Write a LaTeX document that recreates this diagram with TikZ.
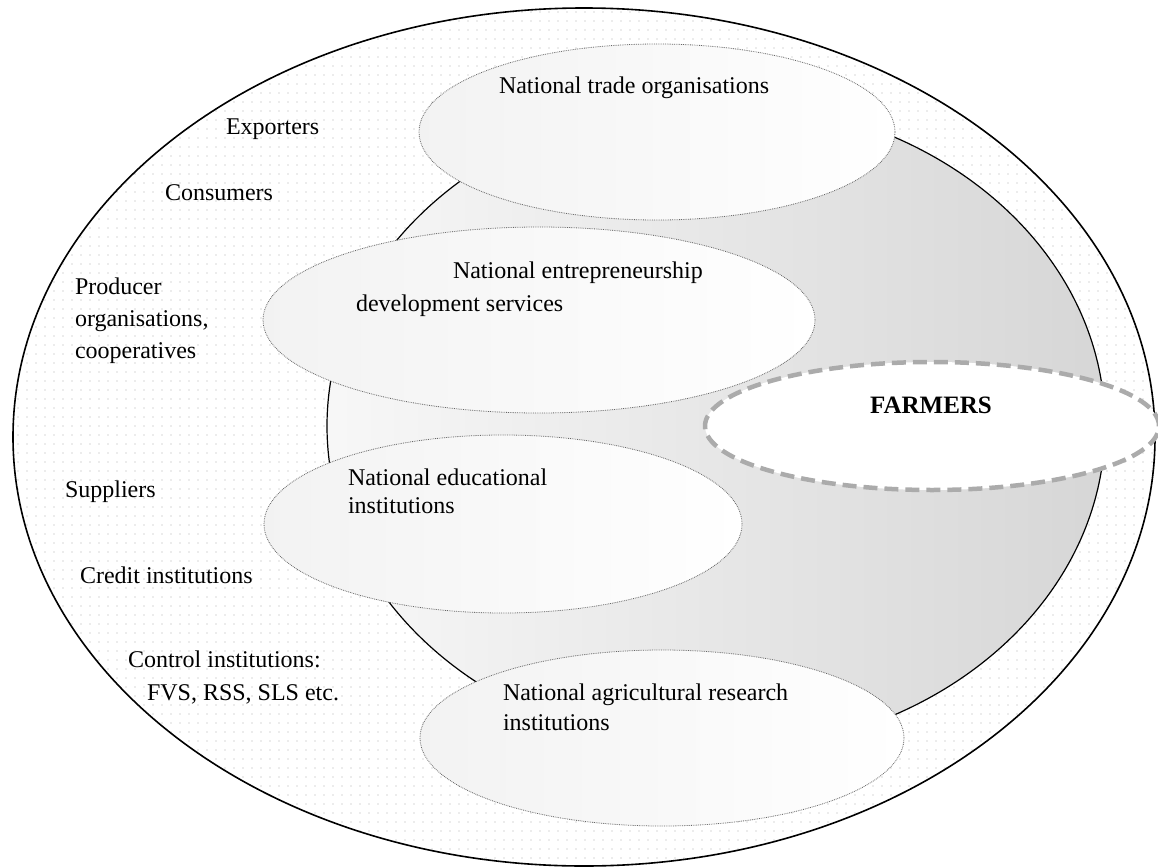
\documentclass[tikz,border=0pt]{standalone}
\usepackage{fontspec}
\setmainfont{Liberation Serif}
\usetikzlibrary{shapes.geometric, patterns.meta}

\begin{document}
\begin{tikzpicture}[x=1pt, y=-1pt]
\tikzset{font=\fontsize{24}{32}\selectfont}
\tikzset{every node/.style={inner sep=0pt, outer sep=0pt}}
\tikzset{sector/.style={ellipse, draw=black!60, densely dotted, line width=0.8pt, left color=black!5, right color=white}}
\tikzset{actor/.style={anchor=west, align=left}}
\useasboundingbox (0,0) rectangle (1158,867);
\fill[white] (0,0) rectangle (1158,867);
\node[ellipse, draw, line width=1.6pt, pattern={Dots[distance=9pt, radius=0.7pt]}, pattern color=black!32, minimum width=1142pt, minimum height=858pt] (market) at (584,437) {};
\node[ellipse, draw, line width=1.2pt, left color=black!3, right color=black!16, minimum width=778pt, minimum height=650pt] (core) at (716,426) {};
\node[sector, minimum width=476pt, minimum height=176pt] (trade) at (657,132) {};
\node[sector, minimum width=552pt, minimum height=186pt] (entrepreneur) at (539,320) {};
\node[sector, minimum width=478pt, minimum height=178pt] (education) at (503,524) {};
\node[sector, minimum width=484pt, minimum height=176pt] (research) at (662,738) {};
\node[ellipse, draw=black!33, line width=4.5pt, dash pattern=on 14pt off 7pt, fill=white, minimum width=454pt, minimum height=128pt] (farmers) at (932,426) {};
\node[font=\fontsize{25}{30}\selectfont\bfseries] (farmerstext) at (931,405) {FARMERS};
\node[actor] (tradetext) at (499,88) {National trade organisations};
\node[actor, font=\fontsize{24}{33}\selectfont] (entrepreneurtext) at (356,289) {\hspace*{97pt}National entrepreneurship\\development services};
\node[actor, font=\fontsize{24}{28}\selectfont] (educationtext) at (348,491) {National educational\\institutions};
\node[actor, font=\fontsize{24}{30}\selectfont] (researchtext) at (503,707) {National agricultural research\\institutions};
\node[actor] (exporters) at (226,129) {Exporters};
\node[actor] (consumers) at (165,193) {Consumers};
\node[actor] (producers) at (75,321) {Producer\\organisations,\\cooperatives};
\node[actor] (suppliers) at (65,492) {Suppliers};
\node[actor] (credit) at (80,575) {Credit institutions};
\node[actor, font=\fontsize{24}{33}\selectfont] (control) at (128,678) {Control institutions:\\\hspace*{19pt}FVS, RSS, SLS etc.};
\end{tikzpicture}
\end{document}
